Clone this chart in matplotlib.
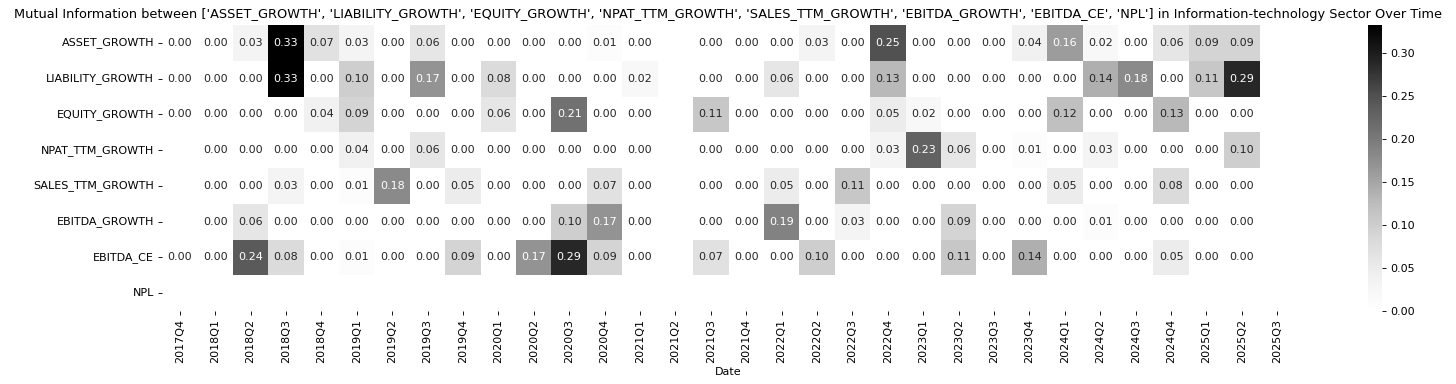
import numpy as np
import pandas as pd
import matplotlib
matplotlib.use("Agg")
import matplotlib.pyplot as plt
import seaborn as sns

nan = np.nan
dates = ["2017Q4",
         "2018Q1", "2018Q2", "2018Q3", "2018Q4",
         "2019Q1", "2019Q2", "2019Q3", "2019Q4",
         "2020Q1", "2020Q2", "2020Q3", "2020Q4",
         "2021Q1", "2021Q2", "2021Q3", "2021Q4",
         "2022Q1", "2022Q2", "2022Q3", "2022Q4",
         "2023Q1", "2023Q2", "2023Q3", "2023Q4",
         "2024Q1", "2024Q2", "2024Q3", "2024Q4",
         "2025Q1", "2025Q2", "2025Q3"]

metrics = ["ASSET_GROWTH", "LIABILITY_GROWTH", "EQUITY_GROWTH", "NPAT_TTM_GROWTH",
           "SALES_TTM_GROWTH", "EBITDA_GROWTH", "EBITDA_CE", "NPL"]

asset_growth = [0.00, 0.00, 0.03, 0.333, 0.07, 0.03, 0.00, 0.06, 0.00, 0.00, 0.00, 0.00, 0.01, 0.00, nan,
                0.00, 0.00, 0.00, 0.03, 0.00, 0.25, 0.00, 0.00, 0.00, 0.04, 0.16, 0.02, 0.00, 0.06, 0.09, 0.09, nan]
liability_growth = [0.00, 0.00, 0.00, 0.333, 0.00, 0.10, 0.00, 0.17, 0.00, 0.08, 0.00, 0.00, 0.00, 0.02, nan,
                    0.00, 0.00, 0.06, 0.00, 0.00, 0.13, 0.00, 0.00, 0.00, 0.00, 0.00, 0.14, 0.18, 0.00, 0.11, 0.29, nan]
equity_growth = [0.00, 0.00, 0.00, 0.00, 0.04, 0.09, 0.00, 0.00, 0.00, 0.06, 0.00, 0.21, 0.00, 0.00, nan,
                 0.11, 0.00, 0.00, 0.00, 0.00, 0.05, 0.02, 0.00, 0.00, 0.00, 0.12, 0.00, 0.00, 0.13, 0.00, 0.00, nan]
npat_ttm_growth = [nan, 0.00, 0.00, 0.00, 0.00, 0.04, 0.00, 0.06, 0.00, 0.00, 0.00, 0.00, 0.00, 0.00, nan,
                   0.00, 0.00, 0.00, 0.00, 0.00, 0.03, 0.23, 0.06, 0.00, 0.01, 0.00, 0.03, 0.00, 0.00, 0.00, 0.10, nan]
sales_ttm_growth = [nan, 0.00, 0.00, 0.03, 0.00, 0.01, 0.18, 0.00, 0.05, 0.00, 0.00, 0.00, 0.07, 0.00, nan,
                    0.00, 0.00, 0.05, 0.00, 0.11, 0.00, 0.00, 0.00, 0.00, 0.00, 0.05, 0.00, 0.00, 0.08, 0.00, 0.00, nan]
ebitda_growth = [nan, 0.00, 0.06, 0.00, 0.00, 0.00, 0.00, 0.00, 0.00, 0.00, 0.00, 0.10, 0.17, 0.00, nan,
                 0.00, 0.00, 0.19, 0.00, 0.03, 0.00, 0.00, 0.09, 0.00, 0.00, 0.00, 0.01, 0.00, 0.00, 0.00, 0.00, nan]
ebitda_ce = [0.00, 0.00, 0.24, 0.08, 0.00, 0.01, 0.00, 0.00, 0.09, 0.00, 0.17, 0.29, 0.09, 0.00, nan,
             0.07, 0.00, 0.00, 0.10, 0.00, 0.00, 0.00, 0.11, 0.00, 0.14, 0.00, 0.00, 0.00, 0.05, 0.00, 0.00, nan]
npl = [nan] * len(dates)

df = pd.DataFrame([asset_growth, liability_growth, equity_growth, npat_ttm_growth,
                   sales_ttm_growth, ebitda_growth, ebitda_ce, npl],
                  index=metrics, columns=dates)

DPI = 80
W, H = 1456, 384
fig = plt.figure(figsize=(W / DPI, H / DPI), dpi=DPI)

def px_axes(x0, y0, x1, y1):
    return fig.add_axes([x0 / W, 1 - y1 / H, (x1 - x0) / W, (y1 - y0) / H])

ax = px_axes(162, 25, 1295, 311)
cax = px_axes(1368, 25, 1382, 311)

sns.heatmap(df, ax=ax, cbar_ax=cax, cmap="Greys", annot=True, fmt=".2f",
            annot_kws={"fontsize": 10})
ax.set_title("Mutual Information between ['ASSET_GROWTH', 'LIABILITY_GROWTH', 'EQUITY_GROWTH', "
             "'NPAT_TTM_GROWTH', 'SALES_TTM_GROWTH', 'EBITDA_GROWTH', 'EBITDA_CE', 'NPL'] "
             "in Information-technology Sector Over Time", fontsize=11.6)
ax.set_xlabel("Date", fontsize=10)
ax.set_ylabel("")
ax.tick_params(axis="both", labelsize=10)
plt.setp(ax.get_xticklabels(), rotation=90)
plt.setp(ax.get_yticklabels(), rotation=0)
cax.tick_params(labelsize=10)

fig.savefig("out.png", dpi=DPI)
